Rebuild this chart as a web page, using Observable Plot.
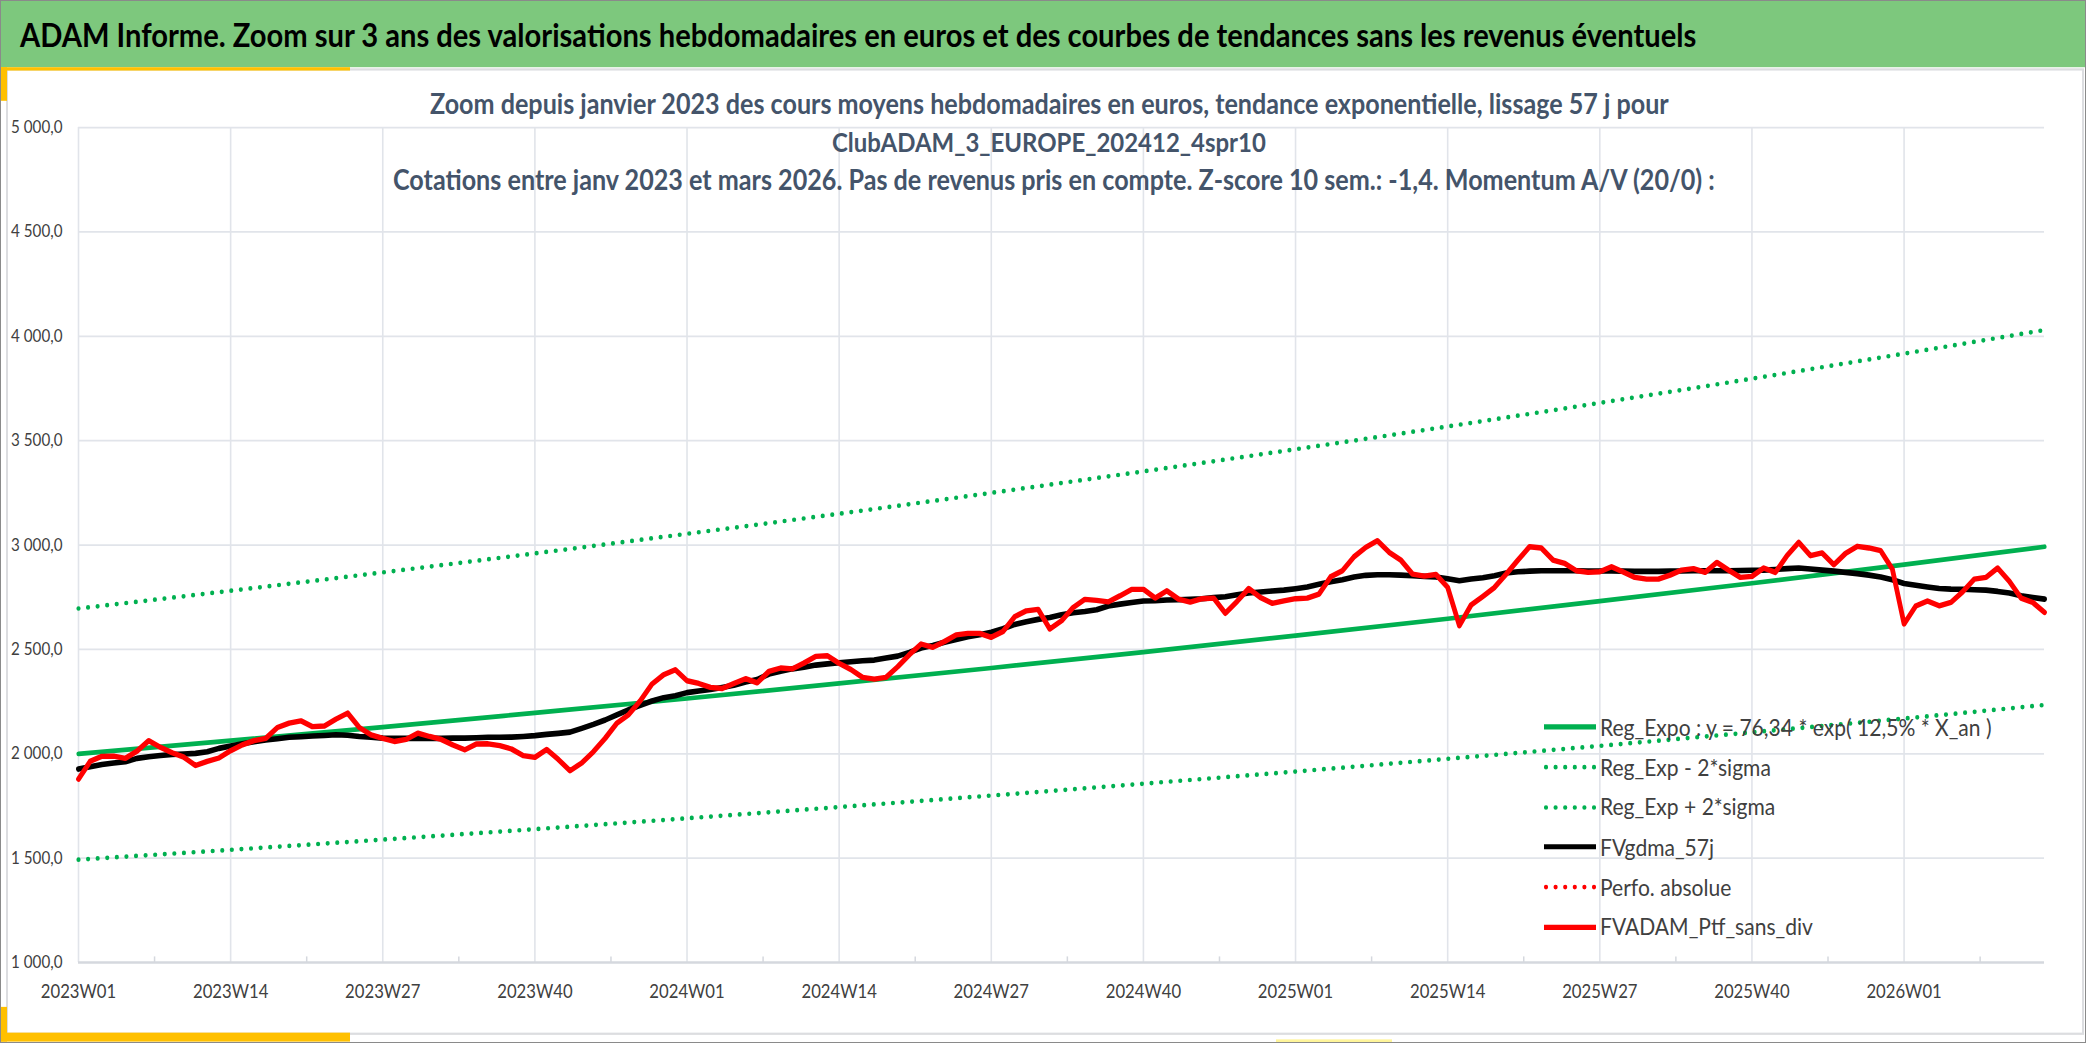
<!DOCTYPE html>
<html><head><meta charset="utf-8">
<script src="https://cdn.jsdelivr.net/npm/d3@7"></script>
<script src="https://cdn.jsdelivr.net/npm/@observablehq/plot@0.6"></script>
<style>
html,body{margin:0;padding:0;background:#fff;overflow:hidden;width:2086px;height:1043px;}
#root{position:absolute;left:0;top:0;width:2086px;transform-origin:0 0;font-family:Lato,sans-serif;}
#frame{position:absolute;left:0;top:0;width:2086px;height:1043px;box-sizing:border-box;border:1.5px solid #8a8a8a;pointer-events:none;}
</style></head><body><div id="root"></div><div id="frame"></div>
<script>
// ---------- data ----------
const weekLabels = [];
for (const [yr, n] of [[2023, 52], [2024, 52], [2025, 52], [2026, 13]])
  for (let k = 1; k <= n; k++) weekLabels.push(`${yr}W${String(k).padStart(2, "0")}`);

const xTickLabels = ["2023W01","2023W14","2023W27","2023W40","2024W01","2024W14","2024W27","2024W40","2025W01","2025W14","2025W27","2025W40","2026W01"];
const minorTickPos = [6.5,19.5,32.5,45.5,58.5,71.5,84.5,97.5,110.5,123.5,136.5,149.5,162.5];
const yTicks = [1000,1500,2000,2500,3000,3500,4000,4500,5000];
const yTickLabels = ["1 000,0","1 500,0","2 000,0","2 500,0","3 000,0","3 500,0","4 000,0","4 500,0","5 000,0"];

// FVADAM_Ptf_sans_div (weekly, 2023W01 .. 2026W13)
const ptf = [1879,1964,1988,1989,1978,2013,2063,2031,2005,1984,1944,1964,1980,2015,2043,2063,2074,2126,2147,2158,
2130,2133,2166,2195,2126,2091,2074,2059,2069,2099,2083,2069,2042,2019,2047,2048,2039,2023,1991,1983,
2021,1973,1919,1956,2010,2074,2146,2187,2254,2334,2379,2403,2350,2337,2318,2313,2337,2360,2340,2395,
2411,2407,2435,2467,2470,2433,2404,2366,2358,2366,2417,2475,2526,2510,2538,2570,2577,2577,2558,2586,
2657,2685,2692,2598,2637,2701,2740,2735,2728,2757,2788,2788,2746,2781,2741,2727,2743,2746,2673,2730,
2792,2749,2721,2733,2743,2746,2765,2848,2877,2944,2989,3021,2965,2928,2861,2851,2859,2797,2614,2713,
2754,2797,2861,2928,2992,2986,2928,2912,2877,2869,2872,2896,2871,2845,2837,2837,2856,2880,2887,2869,
2917,2880,2845,2850,2890,2869,2949,3013,2949,2962,2906,2960,2994,2986,2973,2885,2622,2708,2732,2709,
2725,2776,2837,2845,2890,2826,2746,2725,2677];

// FVgdma_57j (weekly)
const gdma = [1927,1938,1949,1956,1962,1978,1986,1992,1997,1999,2002,2010,2026,2037,2048,2058,2066,2072,2079,2082,
2085,2088,2091,2089,2083,2080,2075,2074,2074,2074,2074,2074,2075,2075,2077,2079,2079,2080,2083,2087,
2093,2098,2104,2122,2141,2162,2187,2211,2232,2253,2269,2278,2293,2301,2308,2318,2328,2344,2356,2382,
2396,2407,2415,2425,2431,2436,2441,2446,2449,2459,2468,2486,2507,2519,2534,2548,2561,2570,2582,2599,
2620,2633,2644,2653,2666,2676,2682,2690,2708,2717,2725,2732,2733,2737,2738,2740,2743,2748,2752,2762,
2770,2775,2780,2784,2791,2799,2812,2824,2834,2847,2855,2858,2858,2856,2853,2850,2847,2839,2829,2837,
2843,2853,2866,2872,2875,2877,2877,2877,2877,2876,2876,2876,2875,2874,2874,2874,2875,2876,2877,2877,
2877,2877,2878,2879,2880,2883,2887,2890,2885,2880,2875,2869,2863,2856,2847,2834,2816,2807,2799,2792,
2789,2788,2786,2784,2778,2770,2757,2749,2741];

// Regression curves read at the labelled weeks and at the last week
const regWeeks = [0,13,26,39,52,65,78,91,104,117,130,143,156,168];
const regExpo  = [2000,2063,2128,2196,2265,2337,2411,2487,2566,2647,2731,2817,2906,2992];
const regUpper = [2696,2781,2869,2960,3054,3150,3250,3353,3459,3568,3681,3797,3917,4030];
const regLower = [1493,1540,1589,1639,1691,1745,1800,1857,1915,1976,2038,2103,2169,2234];

const legendItems = [
  {label: "Reg_Expo : y = 76,34 * exp( 12,5% * X_an )", color: "#00b050", dotted: false},
  {label: "Reg_Exp - 2*sigma", color: "#00b050", dotted: true},
  {label: "Reg_Exp + 2*sigma", color: "#00b050", dotted: true},
  {label: "FVgdma_57j", color: "#000000", dotted: false},
  {label: "Perfo. absolue", color: "#ff0000", dotted: true},
  {label: "FVADAM_Ptf_sans_div", color: "#ff0000", dotted: false}
];
const titleText = "ADAM Informe. Zoom sur 3 ans des valorisations hebdomadaires en euros et des courbes de tendances sans les revenus éventuels";
const subtitleLines = [
  "Zoom depuis janvier 2023 des cours moyens hebdomadaires en euros, tendance exponentielle, lissage 57 j pour",
  "ClubADAM_3_EUROPE_202412_4spr10",
  "Cotations entre janv 2023 et mars 2026. Pas de revenus pris en compte. Z-score 10 sem.: -1,4. Momentum A/V (20/0) :"
];

// ---------- layout ----------
const R = 1.12;                 // vertical stretch of the reference
const Y = v => v / R;           // reference px -> pre-stretch px
const H = 1043 / R;
const root = document.getElementById("root");
root.style.height = H + "px";
root.style.transform = `scaleY(${R})`;

const rows = (xs, ys) => xs.map((x, i) => ({x, v: ys[i]}));
const idx = ptf.map((_, i) => i);
const xTickIdx = xTickLabels.map(l => weekLabels.indexOf(l));
const gridColor = "#e1e4ea", axisColor = "#d5d8de", textColor = "#404040";
const dots = {strokeDasharray: "0 9.6", strokeLinecap: "round"};

const chart = Plot.plot({
  width: 2086, height: H,
  marginLeft: 78, marginRight: 42, marginTop: Y(127), marginBottom: Y(81),
  style: {fontFamily: "Lato", background: "transparent", position: "absolute", left: "0px", top: "0px"},
  x: {domain: [0, 168], axis: null, label: null},
  y: {domain: [1000, 5000], axis: null, label: null},
  marks: [
    Plot.gridY(yTicks.slice(1), {stroke: gridColor, strokeOpacity: 1, strokeWidth: 1.6}),
    Plot.gridX(xTickIdx, {stroke: gridColor, strokeOpacity: 1, strokeWidth: 1.6}),
    Plot.ruleY([1000], {stroke: axisColor, strokeWidth: 2.2}),
    Plot.axisX(minorTickPos, {anchor: "bottom", tickSize: 5, dy: -5, text: null, label: null, stroke: axisColor, strokeWidth: 1.5}),
    Plot.axisX(xTickIdx, {anchor: "bottom", tickSize: 0, tickPadding: 19.5, label: null, tickFormat: d => weekLabels[d], fontSize: 16.7, fill: textColor}),
    Plot.axisY(yTicks, {anchor: "left", tickSize: 0, tickPadding: 16, label: null, tickFormat: d => yTickLabels[yTicks.indexOf(d)], fontSize: 15.2, fill: textColor}),
    Plot.line(rows(regWeeks, regExpo), {x: "x", y: "v", stroke: "#00b050", strokeWidth: 4.2, curve: "monotone-x"}),
    Plot.line(rows(regWeeks, regLower), {x: "x", y: "v", stroke: "#00b050", strokeWidth: 4.2, curve: "monotone-x", ...dots}),
    Plot.line(rows(regWeeks, regUpper), {x: "x", y: "v", stroke: "#00b050", strokeWidth: 4.2, curve: "monotone-x", ...dots}),
    Plot.line(rows(idx, gdma), {x: "x", y: "v", stroke: "#000000", strokeWidth: 5, strokeLinejoin: "round"}),
    Plot.line(rows(idx, ptf), {x: "x", y: "v", stroke: "#ff0000", strokeWidth: 4.8, strokeLinejoin: "round"})
  ]
});
root.appendChild(chart);

function addDiv(style, text) {
  const d = document.createElement("div");
  Object.assign(d.style, {position: "absolute"}, style);
  if (text != null) d.textContent = text;
  root.appendChild(d);
  return d;
}
const ctx = document.createElement("canvas").getContext("2d");
function fit(text, weight, targetW) {
  ctx.font = `${weight} 100px Lato`;
  return 100 * targetW / ctx.measureText(text).width;
}
function addText(text, x, baseline, size, weight, color) {
  return addDiv({left: x + "px", top: (Y(baseline) - 0.887 * size) + "px", fontSize: size + "px",
    lineHeight: "1", fontWeight: weight, color, whiteSpace: "pre", fontFamily: "Lato"}, text);
}

// frames and accents
addDiv({left: "6px", top: Y(68) + "px", width: "2078px", height: Y(1035 - 68) + "px", boxSizing: "border-box", border: "2px solid #dcdde0"});
addDiv({left: "0px", top: "0px", width: "2086px", height: Y(67) + "px", background: "#7dc87d"});
addDiv({left: "0px", top: Y(67) + "px", width: "350px", height: Y(3.5) + "px", background: "#ffc000"});
addDiv({left: "0px", top: Y(67) + "px", width: "7px", height: Y(34) + "px", background: "#ffc000"});
addDiv({left: "0px", top: Y(1007) + "px", width: "7px", height: Y(35) + "px", background: "#ffc000"});
addDiv({left: "0px", top: Y(1033) + "px", width: "350px", height: Y(9) + "px", background: "#ffc000"});
addDiv({left: "1276px", top: Y(1039) + "px", width: "116px", height: Y(4) + "px", background: "#fff59a"});

// title and subtitle
addText(titleText, 20, 47, fit(titleText, 700, 1678), 700, "#000000");
const subSpans = [[430, 1670, 115], [832, 1266, 153], [393, 1718, 191]];
subtitleLines.forEach((t, i) => {
  const [x0, x1, b] = subSpans[i];
  addText(t, x0, b, fit(t, 700, x1 - x0), 700, "#44546a");
});

// legend
const legSize = fit("FVADAM_Ptf_sans_div", 400, 213);
const legCenters = [727, 767, 807, 847, 887, 927];
legendItems.forEach((it, i) => {
  const c = legCenters[i];
  const s = document.createElementNS("http://www.w3.org/2000/svg", "svg");
  s.setAttribute("width", 60); s.setAttribute("height", 12);
  Object.assign(s.style, {position: "absolute", left: "1540px", top: (Y(c) - 6) + "px", overflow: "visible"});
  const ln = document.createElementNS("http://www.w3.org/2000/svg", "line");
  ln.setAttribute("x1", it.dotted ? 6 : 4); ln.setAttribute("x2", 56);
  ln.setAttribute("y1", 6); ln.setAttribute("y2", 6);
  ln.setAttribute("stroke", it.color);
  ln.setAttribute("stroke-width", it.dotted ? 4.2 : 4.6);
  if (it.dotted) { ln.setAttribute("stroke-dasharray", "0 9.6"); ln.setAttribute("stroke-linecap", "round"); }
  s.appendChild(ln);
  root.appendChild(s);
  addText(it.label, 1600, c + 8.3, legSize, 400, textColor);
});
</script></body></html>
